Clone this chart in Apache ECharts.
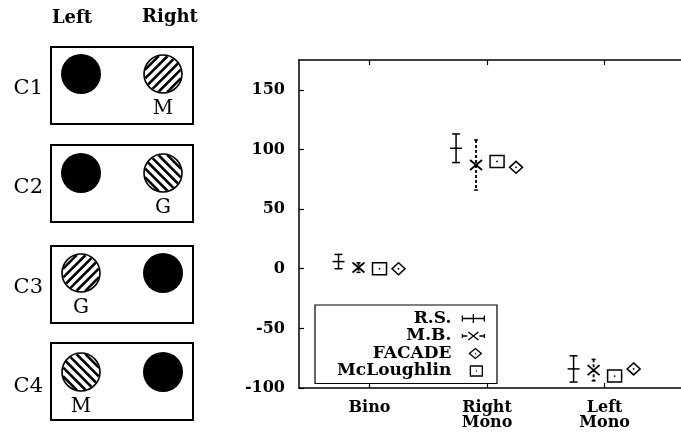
<!DOCTYPE html>
<html><head><meta charset="utf-8">
<script src="https://cdn.jsdelivr.net/npm/echarts@6/dist/echarts.min.js"></script>
<style>html,body{margin:0;padding:0;background:#fff}#c{width:681px;height:435px}</style>
</head><body><div id="c"></div>
<script>
// ---- data ----
const categories = ['Bino', 'Right\nMono', 'Left\nMono'];
const seriesNames = ['R.S.', 'M.B.', 'FACADE', 'McLoughlin'];
const rsMean = [6, 101, -84];
const rsErr = [6, 12, 11];
const mbMean = [1, 87, -85];
const mbErr = [4, 21, 9];
const facadeValues = [0, 85, -84];
const mcloughlinValues = [0, 90, -90];

// diagram (left) content
const panelNames = ['C1', 'C2', 'C3', 'C4'];
const hatchSide = ['right', 'right', 'left', 'left'];
const hatchLabels = ['M', 'G', 'G', 'M'];
const hatchDir = [1, -1, 1, -1];
const columnTitles = ['Left', 'Right'];

// ---- layout / style ----
const FONT = '"DejaVu Serif", serif';
const panelTops = [47, 145, 246, 343];
const circleYs = [74, 173, 273, 372];

function hatchedCircle(cx, cy, r, dir) {
  const kids = [{type: 'circle', shape: {cx, cy, r}, style: {fill: '#fff', stroke: '#000', lineWidth: 1.6}}];
  const s2 = Math.SQRT1_2;
  const u = [s2, -dir * s2], n = [s2, dir * s2];
  const gap = 6.3;
  for (let k = -2.5; k <= 2.5; k += 1) {
    const d = k * gap;
    const h = Math.sqrt(Math.max(r * r - d * d, 0)) - 0.8;
    const px = cx + n[0] * d, py = cy + n[1] * d;
    kids.push({type: 'line', shape: {x1: px - u[0] * h, y1: py - u[1] * h, x2: px + u[0] * h, y2: py + u[1] * h},
      style: {stroke: '#000', lineWidth: 2.6}});
  }
  return kids;
}

const graphics = [];
graphics.push({type: 'text', x: 72, y: 18, style: {text: columnTitles[0], font: 'bold 18px ' + FONT, fill: '#000', align: 'center', verticalAlign: 'middle'}});
graphics.push({type: 'text', x: 170, y: 17, style: {text: columnTitles[1], font: 'bold 18px ' + FONT, fill: '#000', align: 'center', verticalAlign: 'middle'}});
panelNames.forEach((name, i) => {
  const top = panelTops[i];
  const cy = circleYs[i];
  graphics.push({type: 'rect', shape: {x: 51, y: top, width: 142, height: 77}, style: {fill: 'none', stroke: '#000', lineWidth: 2}});
  graphics.push({type: 'text', x: 43, y: cy + 15, style: {text: name, font: '21px ' + FONT, fill: '#000', align: 'right', verticalAlign: 'middle'}});
  const leftX = 81, rightX = 163;
  const hx = hatchSide[i] === 'right' ? rightX : leftX;
  const bx = hatchSide[i] === 'right' ? leftX : rightX;
  graphics.push({type: 'circle', shape: {cx: bx, cy: cy, r: 20}, style: {fill: '#000'}});
  hatchedCircle(hx, cy, 19, hatchDir[i]).forEach(e => graphics.push(e));
  graphics.push({type: 'text', x: hx, y: cy + 35, style: {text: hatchLabels[i], font: '20px ' + FONT, fill: '#000', align: 'center', verticalAlign: 'middle'}});
});

const ST = {stroke: '#000', lineWidth: 1.5, fill: null};
function seg(x1, y1, x2, y2, extra) {
  return {type: 'line', shape: {x1, y1, x2, y2}, style: Object.assign({}, ST, extra || {})};
}

function renderRS(params, api) {
  const x = api.value(0), m = api.value(1), e = api.value(2);
  const c = api.coord([x, m]);
  const cx = c[0] - 31, cy = c[1];
  const top = api.coord([x, m + e])[1], bot = api.coord([x, m - e])[1];
  return {type: 'group', children: [
    seg(cx, top, cx, bot), seg(cx - 4, top, cx + 4, top), seg(cx - 4, bot, cx + 4, bot), seg(cx - 6, cy, cx + 6, cy)
  ]};
}
function renderMB(params, api) {
  const x = api.value(0), m = api.value(1), e = api.value(2);
  const c = api.coord([x, m]);
  const cx = c[0] - 11, cy = c[1];
  const top = api.coord([x, m + e])[1], bot = api.coord([x, m - e])[1];
  return {type: 'group', children: [
    seg(cx, top, cx, bot, {lineDash: [3, 2], lineWidth: 1.8}), seg(cx - 2, top, cx + 2, top), seg(cx - 2, bot, cx + 2, bot),
    seg(cx - 6, cy - 5, cx + 6, cy + 5, {lineWidth: 1.8}), seg(cx - 6, cy + 5, cx + 6, cy - 5, {lineWidth: 1.8})
  ]};
}
function renderSquare(params, api) {
  const c = api.coord([api.value(0), api.value(1)]);
  const cx = c[0] + 10, cy = c[1];
  return {type: 'group', children: [
    {type: 'rect', shape: {x: cx - 7, y: cy - 6, width: 14, height: 12}, style: {fill: 'none', stroke: '#000', lineWidth: 1.5}},
    {type: 'circle', shape: {cx, cy, r: 0.9}, style: {fill: '#000'}}
  ]};
}
function renderDiamond(params, api) {
  const c = api.coord([api.value(0), api.value(1)]);
  const cx = c[0] + 29, cy = c[1];
  return {type: 'group', children: [
    {type: 'polygon', shape: {points: [[cx, cy - 6], [cx + 6.5, cy], [cx, cy + 6], [cx - 6.5, cy]]}, style: {fill: 'none', stroke: '#000', lineWidth: 1.5}},
    {type: 'circle', shape: {cx, cy, r: 0.9}, style: {fill: '#000'}}
  ]};
}

const icons = [
  'path://M0,0M34,12M6,6L28,6M6,3L6,9M28,3L28,9M17,1.5L17,10.5',
  'path://M0,0M34,12M6,6L11,6M23,6L28,6M6,4L6,8M28,4L28,8M12,2L22,10M12,10L22,2',
  'path://M0,0M34,12M19,1L25,6L19,11L13,6ZM18.5,6L19.5,6',
  'path://M0,0M34,12M14,1L26,1L26,11L14,11ZM19.5,6L20.5,6'
];

const chart = echarts.init(document.getElementById('c'), null, {renderer: 'canvas'});
const tickVals = categories.map((c, i) => i + 1);
const axisCommon = {
  type: 'value', min: 0.4, max: 3.65,
  axisLine: {show: true, onZero: false, lineStyle: {color: '#000', width: 1.5}},
  axisTick: {show: true, inside: true, length: 5, customValues: tickVals, lineStyle: {color: '#000', width: 1.2}},
  splitLine: {show: false}
};
chart.setOption({
  animation: false,
  backgroundColor: '#fff',
  grid: {left: 299, top: 60, right: 0, bottom: 47, containLabel: false},
  xAxis: [
    Object.assign({}, axisCommon, {position: 'bottom',
      axisLabel: {show: true, customValues: tickVals, formatter: v => categories[Math.round(v) - 1] || '',
        fontFamily: FONT, fontWeight: 'bold', fontSize: 16, color: '#000', margin: 12, lineHeight: 15}}),
    Object.assign({}, axisCommon, {position: 'top', axisLabel: {show: false}})
  ],
  yAxis: {
    type: 'value', min: -100, max: 175, interval: 50,
    axisLine: {show: true, onZero: false, lineStyle: {color: '#000', width: 1.5}},
    axisTick: {show: true, inside: true, length: 5, lineStyle: {color: '#000', width: 1.2}},
    axisLabel: {fontFamily: FONT, fontWeight: 'bold', fontSize: 16, color: '#000', margin: 14, showMaxLabel: false},
    splitLine: {show: false}
  },
  legend: {
    orient: 'vertical', align: 'right', right: 184, top: 305,
    padding: [5, 6, 4, 22], itemWidth: 34, itemHeight: 12, itemGap: 0.5,
    borderColor: '#000', borderWidth: 1.2, backgroundColor: '#fff',
    textStyle: {fontFamily: FONT, fontWeight: 'bold', fontSize: 17, color: '#000'},
    data: seriesNames.map((n, i) => ({name: n, icon: icons[i],
      itemStyle: {color: 'rgba(0,0,0,0)', borderColor: '#000', borderWidth: 1.3}}))
  },
  graphic: {elements: graphics},
  series: [
    {name: seriesNames[0], type: 'custom', renderItem: renderRS, encode: {x: 0, y: 1},
      data: rsMean.map((v, i) => [i + 1, v, rsErr[i]])},
    {name: seriesNames[1], type: 'custom', renderItem: renderMB, encode: {x: 0, y: 1},
      data: mbMean.map((v, i) => [i + 1, v, mbErr[i]])},
    {name: seriesNames[2], type: 'custom', renderItem: renderDiamond, encode: {x: 0, y: 1},
      data: facadeValues.map((v, i) => [i + 1, v])},
    {name: seriesNames[3], type: 'custom', renderItem: renderSquare, encode: {x: 0, y: 1},
      data: mcloughlinValues.map((v, i) => [i + 1, v])}
  ]
});
</script></body></html>
